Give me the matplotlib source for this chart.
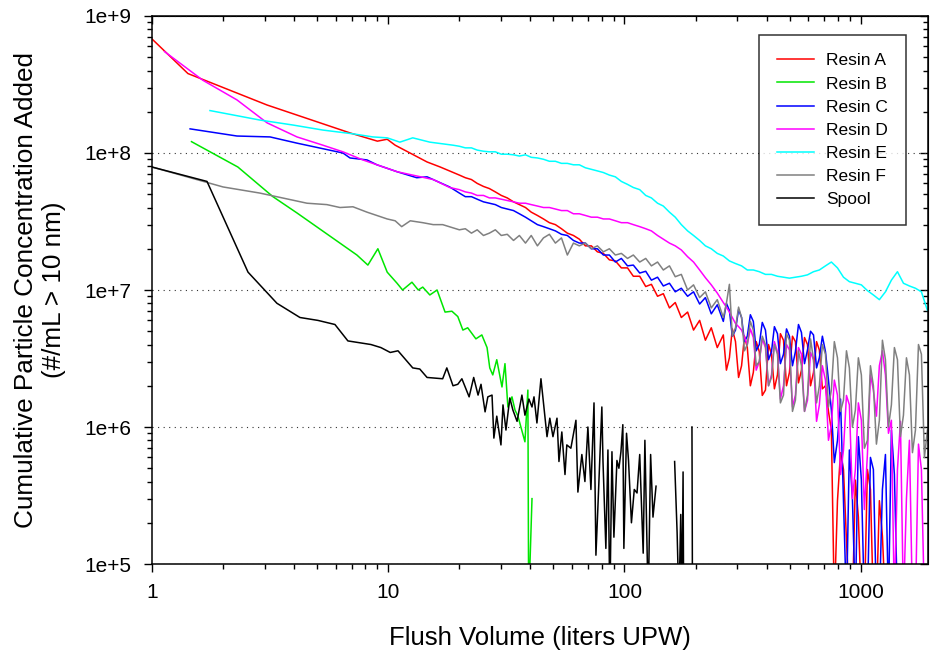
import numpy as np
import matplotlib
matplotlib.use("Agg")
import matplotlib.pyplot as plt
from matplotlib.ticker import LogLocator, FuncFormatter, NullFormatter

nan = np.nan

# flush volumes (liters) shared by the noisy part of each run
tail_vol = [20, 21.2, 22.5, 23.8, 25.3, 26.8, 28.4, 30.1, 31.9, 33.9,
            35.9, 38.1, 40.3, 42.8, 45.4, 48.1, 51, 54.1, 57.3, 60.8,
            64.4, 68.3, 72.4, 76.8, 81.4, 86.3, 91.5, 97, 103, 109,
            116, 123, 130, 138, 146, 155, 164, 174, 185, 196,
            208, 220, 233, 247, 262, 278, 295, 313, 331, 351,
            372, 395, 419, 444, 471, 499, 529, 561, 595, 631,
            668, 709, 751, 797, 845, 895, 949, 1006, 1067, 1131,
            1199, 1272, 1348, 1430, 1516, 1607, 1704, 1806, 1915]
# extra readings in between, from 270 L on
mid_vol = [270, 286, 304, 322, 341, 361, 383, 407, 431, 457,
           485, 514, 545, 578, 613, 650, 688, 730, 773, 821,
           870, 922, 977, 1036, 1099, 1165, 1235, 1310, 1388, 1472,
           1561, 1655, 1755, 1860]

# Resin A
a_vol = [1, 1.42, 3.07, 6.9, 9.0, 9.9, 10.7, 14.6, 16.6]
a_conc = [6.8e8, 3.8e8, 2.24e8, 1.4e8, 1.22e8, 1.26e8, 1.14e8, 8.6e7, 7.9e7]
a_tail = [6.9e7, 6.6e7, 6.4e7, 6.0e7, 5.7e7, 5.5e7, 5.2e7, 4.9e7, 4.7e7, 4.4e7,
          4.2e7, 4.0e7, 3.7e7, 3.5e7, 3.3e7, 3.1e7, 3.0e7, 2.8e7, 2.6e7, 2.5e7,
          2.35e7, 2.1e7, 2.1e7, 1.9e7, 1.85e7, 1.66e7, 1.63e7, 1.45e7, 1.45e7, 1.26e7,
          1.26e7, 1.06e7, 1.1e7, 9.0e6, 9.4e6, 7.4e6, 8.1e6, 6.3e6, 6.9e6, 5.1e6,
          6.0e6, 4.3e6, 5.3e6, 3.8e6, 4.7e6, 3.2e6, 4.2e6, 2.8e6, 3.8e6, 2.5e6,
          3.55e6, 1.86e6, 3.4e6, 2.4e6, 4.3e6, 2.5e6, 4.2e6, 2.6e6, 4.0e6, 2.5e6,
          3.65e6, 2.0e6, 9.5e5, 2.9e5, 4.9e5, 5e4, 4.1e5, 5e4, 4.9e5, 5e4,
          2.9e5, 5e4]
a_mid = [2.6e6, 5.2e6, 2.3e6, 4.6e6, 2.0e6, 4.2e6, 1.7e6, 4.0e6, 1.9e6, 4.8e6,
         2.0e6, 4.6e6, 2.1e6, 4.5e6, 2.0e6, 4.2e6, 1.9e6, 1.3e6, 5e4, 6.5e5,
         1.5e5, 5e4, 2.2e5, 5e4, 3.5e5, 5e4, 1.6e5]

# Resin B
b_vol = [1.47, 2.31, 3.25, 4.11, 7.37, 8.2, 9.04, 9.9, 10.9, 11.5,
         12.6, 13.4, 14.0, 15.0, 16.1, 17.4, 18.6, 19.7, 20.7, 21.7,
         23.5, 24.9, 26.2, 26.9, 27.7, 28.8, 30.3, 31.2, 32.1, 33.4,
         34.4, 35.4, 37.9, 39.0, 39.3, 40.6]
b_conc = [1.21e8, 7.9e7, 4.8e7, 3.65e7, 1.8e7, 1.52e7, 2.0e7, 1.35e7, 1.12e7, 1.0e7,
          1.14e7, 1.0e7, 1.05e7, 9.2e6, 1.0e7, 6.9e6, 7.0e6, 6.4e6, 5.1e6, 5.3e6,
          4.4e6, 4.7e6, 3.8e6, 2.7e6, 2.4e6, 3.1e6, 1.96e6, 2.9e6, 1.4e6, 1.66e6,
          1.33e6, 1.2e6, 7.8e5, 1.86e6, 5e4, 3.0e5]

# Resin C
c_vol = [1.45, 2.29, 3.16, 4.11, 6.43, 6.89, 8.13, 8.96, 10.9, 13.2, 14.6, 18.2]
c_conc = [1.5e8, 1.33e8, 1.31e8, 1.18e8, 1.0e8, 9.2e7, 8.9e7, 8.2e7, 7.3e7, 6.6e7, 6.7e7, 5.65e7]
c_tail = [5.1e7, 4.8e7, 4.8e7, 4.6e7, 4.4e7, 4.3e7, 4.2e7, 4.0e7, 3.9e7, 3.8e7,
          3.6e7, 3.4e7, 3.2e7, 3.0e7, 2.9e7, 2.8e7, 2.7e7, 2.55e7, 2.5e7, 2.3e7,
          2.2e7, 2.2e7, 2.0e7, 2.0e7, 1.8e7, 1.8e7, 1.6e7, 1.7e7, 1.5e7, 1.52e7,
          1.33e7, 1.37e7, 1.18e7, 1.24e7, 1.07e7, 1.12e7, 9.7e6, 1.03e7, 9.0e6, 9.7e6,
          7.9e6, 8.8e6, 6.7e6, 7.8e6, 5.9e6, 7.1e6, 5.1e6, 6.3e6, 4.6e6, 5.9e6,
          4.0e6, 5.1e6, 3.55e6, 4.8e6, 3.4e6, 4.6e6, 3.55e6, 4.9e6, 3.65e6, 4.7e6,
          3.2e6, 3.55e6, 1.33e6, 8.0e5, 2.9e5, 6.8e5, 5e4, 4.1e5, 5e4, 4.9e5,
          5e4, 6.3e5, 9.5e5, 5e4]
c_mid = [8.0e6, 4.6e6, 7.2e6, 4.2e6, 6.6e6, 3.6e6, 5.8e6, 3.1e6, 5.4e6, 2.9e6,
         5.2e6, 2.8e6, 5.6e6, 2.9e6, 5.0e6, 2.7e6, 4.6e6, 2.2e6, 5.5e5, 1.6e6,
         5e4, 3.0e5, 8.5e5, 5e4, 6e5, 5e4, 3.5e5, 5e4, 4.5e5]

# Resin D
d_vol = [1.13, 1.64, 2.29, 3.07, 4.11, 5.29, 6.43, 7.81, 8.96, 10.9, 15.5, 18.2]
d_conc = [5.5e8, 3.4e8, 2.44e8, 1.66e8, 1.31e8, 1.14e8, 1.02e8, 8.9e7, 8.2e7, 7.3e7, 6.4e7, 5.6e7]
d_tail = [5.4e7, 5.2e7, 5.1e7, 4.9e7, 4.9e7, 4.7e7, 4.7e7, 4.6e7, 4.5e7, 4.4e7,
          4.3e7, 4.3e7, 4.2e7, 4.1e7, 4.0e7, 4.0e7, 3.9e7, 3.8e7, 3.8e7, 3.6e7,
          3.6e7, 3.5e7, 3.4e7, 3.4e7, 3.3e7, 3.3e7, 3.2e7, 3.1e7, 3.1e7, 3.0e7,
          2.9e7, 2.8e7, 2.7e7, 2.5e7, 2.35e7, 2.2e7, 2.1e7, 1.96e7, 1.75e7, 1.6e7,
          1.4e7, 1.23e7, 1.09e7, 9.5e6, 8.1e6, 6.9e6, 5.7e6, 5.1e6, 4.0e6, 4.5e6,
          3.0e6, 3.8e6, 2.4e6, 3.55e6, 2.0e6, 3.65e6, 1.71e6, 3.4e6, 1.57e6, 3.1e6,
          1.45e6, 2.2e6, 1.03e6, 1.71e6, 6.8e5, 1.45e6, 4.9e5, 1.12e6, 6.3e5, 1.86e6,
          2.8e6, 2.4e6, 1.12e6, 4.9e5, 5e4, 8.0e5, 5e4, 4.9e5, 5e4]
d_mid = [7.5e6, 6.3e6, 5.4e6, 4.5e6, 5.2e6, 2.6e6, 4.4e6, 2.0e6, 4.2e6, 1.6e6,
         4.0e6, 1.4e6, 3.8e6, 1.3e6, 3.5e6, 1.1e6, 2.8e6, 8e5, 2.2e6, 4.5e5,
         1.7e6, 3e5, 1.5e6, 2.5e5, 2.4e6, 1.2e6, 3.6e6, 9e5, 5e4, 1.1e6,
         3e5, 5e4, 7.5e5, 5e4]

# Resin E
e_vol = [1.76, 2.86, 3.95, 5.29, 7.09, 8.61, 9.9, 11.2, 12.7, 15.0, 18.8]
e_conc = [2.04e8, 1.74e8, 1.6e8, 1.47e8, 1.38e8, 1.31e8, 1.29e8, 1.2e8, 1.29e8, 1.2e8, 1.14e8]
e_tail = [1.12e8, 1.09e8, 1.09e8, 1.05e8, 1.03e8, 1.02e8, 1.02e8, 9.8e7, 9.8e7, 9.7e7,
          9.5e7, 9.7e7, 9.3e7, 9.2e7, 9.0e7, 8.7e7, 8.7e7, 8.4e7, 8.4e7, 8.2e7,
          8.2e7, 7.8e7, 7.6e7, 7.4e7, 7.2e7, 6.9e7, 6.7e7, 6.2e7, 5.9e7, 5.6e7,
          5.4e7, 4.9e7, 4.7e7, 4.3e7, 4.1e7, 3.7e7, 3.4e7, 3.0e7, 2.7e7, 2.5e7,
          2.3e7, 2.1e7, 2.0e7, 1.85e7, 1.77e7, 1.63e7, 1.56e7, 1.5e7, 1.4e7, 1.4e7,
          1.36e7, 1.3e7, 1.3e7, 1.26e7, 1.24e7, 1.22e7, 1.24e7, 1.26e7, 1.29e7, 1.36e7,
          1.4e7, 1.5e7, 1.6e7, 1.45e7, 1.24e7, 1.15e7, 1.12e7, 1.09e7, 9.9e6, 9.2e6,
          8.5e6, 9.7e6, 1.18e7, 1.36e7, 1.12e7, 1.07e7, 1.03e7, 9.7e6, 7.1e6]

# Resin F
f_vol = [1.0, 1.71, 2.0, 2.86, 4.53, 5.5, 6.25, 7.09, 8.13, 8.96, 9.9, 10.7, 11.4, 12.4, 14.0, 15.5, 17.0]
f_conc = [7.9e7, 6.1e7, 5.65e7, 5.1e7, 4.3e7, 4.2e7, 4.0e7, 4.05e7, 3.7e7, 3.5e7,
          3.3e7, 3.2e7, 2.9e7, 3.2e7, 3.1e7, 3.0e7, 3.0e7]
f_tail = [2.75e7, 2.8e7, 2.6e7, 2.75e7, 2.5e7, 2.6e7, 2.75e7, 2.5e7, 2.55e7, 2.3e7,
          2.5e7, 2.2e7, 2.5e7, 2.1e7, 2.4e7, 2.55e7, 2.2e7, 2.4e7, 1.8e7, 2.2e7,
          2.1e7, 2.2e7, 2.0e7, 2.1e7, 1.9e7, 2.0e7, 1.8e7, 1.85e7, 1.7e7, 1.8e7,
          1.6e7, 1.7e7, 1.5e7, 1.6e7, 1.4e7, 1.5e7, 1.25e7, 1.3e7, 1.0e7, 1.09e7,
          8.8e6, 9.7e6, 7.4e6, 8.5e6, 6.3e6, 1.1e7, 5.3e6, 6.3e6, 4.0e6, 5.1e6,
          3.0e6, 4.0e6, 2.3e6, 3.4e6, 1.71e6, 4.3e6, 1.57e6, 2.8e6, 1.71e6, 3.1e6,
          2.0e6, 3.4e6, 1.86e6, 3.2e6, 1.57e6, 2.7e6, 1.33e6, 2.4e6, 8.0e5, 2.0e6,
          1.12e6, 3.1e6, 1.45e6, 3.1e6, 1.22e6, 2.4e6, 9.5e5, 3.4e6, 9.5e5]
f_mid = [8.0e6, 4.6e6, 7.5e6, 3.6e6, 5.9e6, 2.8e6, 4.6e6, 2.0e6, 4.0e6, 1.5e6,
         4.8e6, 1.3e6, 3.6e6, 1.3e6, 4.4e6, 1.5e6, 4.0e6, 1.4e6, 4.2e6, 1.3e6,
         3.6e6, 1.0e6, 3.2e6, 7e5, 2.8e6, 7.5e5, 4.3e6, 1.0e6, 3.8e6, 8.5e5,
         3.2e6, 6.5e5, 4.0e6, 6.0e5]

# Spool
s_vol = [1.0, 1.71, 2.55, 3.38, 4.23, 5.04, 5.95, 6.75, 8.45, 9.31,
         10.2, 11.0, 12.7, 13.6, 14.6, 17.0, 17.7, 18.8, 19.7, 20.5,
         22.0, 23.0, 24.0, 24.7, 25.7, 26.4, 27.5, 28.0, 28.8, 30.0,
         30.6, 31.5, 32.7, 33.7, 35.1, 36.8, 37.9, 39.4, 40.6, 41.4,
         42.6, 44.3, 47.0, 48.3, 49.8, 51.8, 52.8, 54.3, 56.0, 57.0,
         59.3, 62.3, 63.5, 66.0, 68.0, 70.0, 72.1, 74.3, 75.7, 77.1,
         80.2, 81.1, 83.4, 85.1, 86.7, 88.5, 90.2, 92.9, 94.7, 96.6,
         98.4, 99.4, 102, 104, 107, 110, 113, 116, 120, 122,
         126, 129, 132, 136, 150, 163, 167, 170, 173, 175,
         177, 178, 185, 193, 194]
s_conc = [7.9e7, 6.2e7, 1.35e7, 8.0e6, 6.3e6, 6.0e6, 5.6e6, 4.25e6, 4.0e6, 3.8e6,
          3.5e6, 3.6e6, 2.7e6, 2.65e6, 2.3e6, 2.25e6, 2.7e6, 2.0e6, 2.05e6, 2.25e6,
          1.66e6, 2.3e6, 1.71e6, 2.05e6, 1.29e6, 1.66e6, 1.71e6, 8.3e5, 1.2e6, 7.4e5,
          1.45e6, 9.5e5, 1.63e6, 1.33e6, 1.1e6, 1.71e6, 1.22e6, 1.6e6, 1.4e6, 1.66e6,
          1.07e6, 2.25e6, 8.5e5, 1.16e6, 8.5e5, 1.16e6, 5.6e5, 9.2e5, 4.5e5, 7.4e5,
          7.0e5, 1.12e6, 3.35e5, 6.3e5, 4.0e5, 1.0e6, 3.5e5, 1.5e6, 1.16e5, 2.5e5,
          1.4e6, 5.6e5, 1.3e5, 6.8e5, 5e4, 6.6e5, 1.57e5, 5.7e5, 5.0e5, 6.6e5,
          1.04e6, 1.3e5, 9.0e5, 5.7e5, 2.0e5, 3.5e5, 3.3e5, 6.3e5, 1.2e5, 8.0e5,
          5e4, 6.3e5, 2.2e5, 3.7e5, nan, 5.6e5, 1.7e5, 5e4, 2.3e5, 5e4,
          4.7e5, 5e4, nan, 1.0e6, 5e4]


def with_tail(vol, conc, tail, mid=()):
    x = np.array(vol + tail_vol[:len(tail)] + mid_vol[:len(mid)], dtype=float)
    y = np.array(conc + tail + list(mid), dtype=float)
    order = np.argsort(x, kind="stable")
    return x[order], y[order]


def main():
    plt.rcParams['font.family'] = ['Liberation Sans', 'DejaVu Sans']

    series = [
        ("Resin A", "#ff0000", *with_tail(a_vol, a_conc, a_tail, a_mid)),
        ("Resin B", "#00e600", b_vol, b_conc),
        ("Resin C", "#0000ff", *with_tail(c_vol, c_conc, c_tail, c_mid)),
        ("Resin D", "#ff00ff", *with_tail(d_vol, d_conc, d_tail, d_mid)),
        ("Resin E", "#00ffff", *with_tail(e_vol, e_conc, e_tail)),
        ("Resin F", "#808080", *with_tail(f_vol, f_conc, f_tail, f_mid)),
        ("Spool", "#000000", s_vol, s_conc),
    ]

    fig, ax = plt.subplots(figsize=(9.3, 6.55), dpi=100)
    fig.subplots_adjust(left=0.1634, right=0.9978, bottom=0.1389, top=0.9756)

    for name, color, x, y in series:
        ax.plot(x, y, color=color, lw=1.1, label=name)

    ax.set_xscale("log")
    ax.set_yscale("log")
    ax.set_xlim(1, 1925)
    ax.set_ylim(1e5, 1e9)

    ax.yaxis.set_major_locator(LogLocator(base=10))
    ax.yaxis.set_major_formatter(FuncFormatter(lambda v, p: "1e+%d" % round(np.log10(v))))
    ax.xaxis.set_major_formatter(FuncFormatter(lambda v, p: "%g" % v))
    ax.xaxis.set_minor_formatter(NullFormatter())
    ax.yaxis.set_minor_formatter(NullFormatter())

    ax.tick_params(which="both", direction="out", labelsize=15, width=1, top=False, right=False)
    ax.tick_params(which="major", length=6)
    ax.tick_params(which="minor", length=3.5)
    ax.tick_params(axis="x", pad=8)
    ax.tick_params(axis="y", pad=9)

    top = ax.secondary_xaxis("top")
    top.tick_params(which="both", direction="in", labeltop=False, width=1)
    top.tick_params(which="major", length=6)
    top.tick_params(which="minor", length=3.5)
    top.xaxis.set_major_formatter(NullFormatter())
    right = ax.secondary_yaxis("right")
    right.tick_params(which="both", direction="in", labelright=False, width=1)
    right.tick_params(which="major", length=6)
    right.tick_params(which="minor", length=3.5)
    right.yaxis.set_major_formatter(NullFormatter())

    for sp in ax.spines.values():
        sp.set_linewidth(1.1)

    ax.yaxis.grid(True, which="major", color="#333333", linestyle=(0, (1, 4)), lw=0.8)
    ax.set_axisbelow(True)

    ax.set_xlabel("Flush Volume (liters UPW)", fontsize=18.5, labelpad=17)
    ax.set_ylabel("Cumulative Particle Concentration Added\n(#/mL > 10 nm)",
                  fontsize=18.8, labelpad=13, linespacing=1.2)

    leg = ax.legend(loc="upper right", bbox_to_anchor=(0.9716, 0.9653), fontsize=12.5,
                    frameon=True, fancybox=False, edgecolor="black", borderpad=1.05,
                    labelspacing=0.46, handlelength=2.1, handletextpad=0.7,
                    borderaxespad=0)
    leg.get_frame().set_linewidth(1.1)

    fig.savefig("out.png", dpi=100)


if __name__ == "__main__":
    main()
